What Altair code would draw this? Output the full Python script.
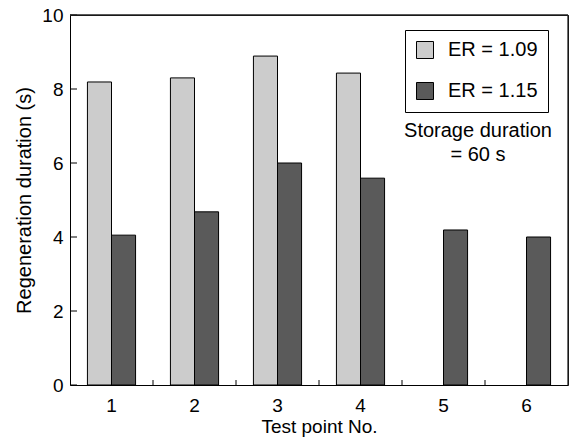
import altair as alt
import pandas as pd

points = ["1", "2", "3", "4", "5", "6"]
er109 = [8.19, 8.30, 8.89, 8.43, None, None]
er115 = [4.05, 4.68, 6.00, 5.59, 4.19, 4.00]
series = ["ER = 1.09", "ER = 1.15"]
colors = ["#cccccc", "#5a5a5a"]
y_ticks = [0, 2, 4, 6, 8, 10]
note = ["Storage duration", "= 60 s"]

rows = []
for p, a, b in zip(points, er109, er115):
    if a is not None:
        rows.append({"point": p, "series": series[0], "value": a})
    if b is not None:
        rows.append({"point": p, "series": series[1], "value": b})
df = pd.DataFrame(rows)
ytick_df = pd.DataFrame({"tick": y_ticks})
xtick_df = pd.DataFrame({"point": points[:-1]})

FONT = "Liberation Sans"
W, H = 498, 370
STEP = W / len(points)
xscale = alt.Scale(domain=points, paddingInner=0.42, paddingOuter=0.21)
yscale = alt.Scale(domain=[0, 10], nice=False)
NB = "\u00a0"

bars = alt.Chart(df).mark_bar(stroke="black", strokeWidth=1).encode(
    x=alt.X("point:N", scale=xscale,
            axis=alt.Axis(title="Test point No.", labelAngle=0, ticks=False, domain=False,
                          grid=False, labelPadding=11, titlePadding=2,
                          labelFontSize=19, titleFontSize=19, labelColor="black",
                          titleColor="black", titleFontWeight="normal", labelFont=FONT, titleFont=FONT)),
    xOffset=alt.XOffset("series:N", scale=alt.Scale(domain=series, paddingInner=0, paddingOuter=0)),
    y=alt.Y("value:Q", scale=yscale,
            axis=alt.Axis(title="Regeneration duration (s)", values=y_ticks, ticks=False,
                          domain=False, grid=False, labelPadding=7, titlePadding=7,
                          labelFontSize=19, titleFontSize=20, labelColor="black",
                          titleColor="black", titleFontWeight="normal", labelFont=FONT, titleFont=FONT)),
    color=alt.Color("series:N", scale=alt.Scale(domain=series, range=colors),
                    legend=alt.Legend(title=None, orient="none", legendX=335, legendY=15,
                                      strokeColor="black", padding=10, symbolType="square",
                                      symbolSize=289, symbolStrokeColor="black",
                                      symbolStrokeWidth=1, labelFontSize=20, labelFont=FONT,
                                      labelColor="black", rowPadding=19, labelOffset=13,
                                      labelExpr=f"datum.label + '{NB*3}'")),
)

yticks = alt.Chart(ytick_df).mark_rule(color="black", strokeWidth=1).encode(
    y=alt.Y("tick:Q", scale=yscale, axis=None),
    x=alt.value(0), x2=alt.value(7),
)

xticks = alt.Chart(xtick_df).mark_rule(color="black", strokeWidth=1, xOffset=STEP / 2).encode(
    x=alt.X("point:N", scale=xscale, axis=None),
    y=alt.value(H - 5), y2=alt.value(H),
)

frame_top = alt.Chart(alt.Data(values=[{"k": 1}])).mark_rule(color="#222222", strokeWidth=1.3).encode(
    x=alt.value(0), x2=alt.value(W), y=alt.value(0)
)
frame_right = alt.Chart(alt.Data(values=[{"k": 1}])).mark_rule(color="#222222", strokeWidth=1.3).encode(
    x=alt.value(W), y=alt.value(0), y2=alt.value(H)
)

text = alt.Chart(alt.Data(values=[{"k": 1}])).mark_text(
    text=note, font=FONT, fontSize=20, color="black", align="center",
    baseline="top", lineHeight=24,
).encode(x=alt.value(408), y=alt.value(106))

chart = alt.layer(bars, yticks, xticks, frame_top, frame_right, text).resolve_axis(
    x="independent", y="independent"
).properties(
    width=W, height=H,
    autosize=alt.AutoSizeParams(type="none"),
    padding={"left": 62, "top": 7, "right": 4, "bottom": 53},
).configure_view(stroke="black", strokeWidth=1)

chart.save("out.html", embed_options={"renderer": "svg", "actions": False})
